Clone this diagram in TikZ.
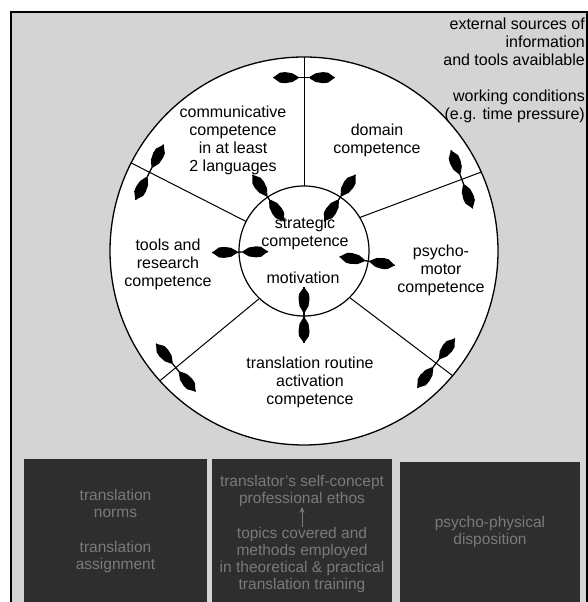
\documentclass[tikz,border=0pt]{standalone}
\usepackage{fontspec}
\setmainfont{Liberation Sans}
\usetikzlibrary{calc,arrows.meta}
% one spindle-shaped head: tip at #1, pointing away from #2
\newcommand\spindlehead[2]{%
  \fill ($(#1)$) -- ($(#1)!7pt!(#2)!5pt!90:(#2)$) -- ($(#1)!12pt!(#2)!5.5pt!90:(#2)$)
    -- ($(#1)!19pt!(#2)!4.5pt!90:(#2)$) -- ($(#1)!25pt!(#2)!1pt!90:(#2)$)
    -- ($(#1)!25pt!(#2)!1pt!-90:(#2)$) -- ($(#1)!19pt!(#2)!4.5pt!-90:(#2)$)
    -- ($(#1)!12pt!(#2)!5.5pt!-90:(#2)$) -- ($(#1)!7pt!(#2)!5pt!-90:(#2)$) -- cycle;}
% two-way arrow between two named coordinates
\newcommand\twowayarrow[2]{%
  \draw[line width=1.3pt] (#1) -- (#2);
  \spindlehead{#1}{#2}\spindlehead{#2}{#1}}
\begin{document}
\begin{tikzpicture}[x=1pt,y=1pt,
  lbl/.style={align=center,font=\fontsize{16}{18}\selectfont,inner sep=0pt},
  note/.style={align=right,font=\fontsize{16}{18}\selectfont,inner sep=0pt,anchor=east},
  boxtxt/.style={align=center,font=\fontsize{15.5}{17}\selectfont,inner sep=0pt,text=black!52},
  darkbox/.style={fill=black!82,draw=none},
  spoke/.style={line width=1pt}
]
\useasboundingbox (0,0) rectangle (588,602);

% shaded field inside the frame
\fill[black!17] (11,-5) rectangle (587,590);
\draw[line width=1.4pt] (11,-5) |- (587,590) -- (587,-5);

% competence wheel
\coordinate (C) at (304,351);
\draw[line width=1.3pt,fill=white] (C) circle[radius=194];
\draw[line width=1.2pt] (C) circle[radius=65];

% spokes with two-way arrows across them
\foreach \a/\b [count=\i] in {90/90, 31/24, -45.6/-40, 226.8/222, 153/153} {
  \coordinate (si\i) at ($(C)+(\a:65)$);
  \coordinate (so\i) at ($(C)+(\b:194)$);
  \draw[spoke] (si\i) -- (so\i);
  \coordinate (m\i) at ($(si\i)!0.84!(so\i)$);
  \coordinate (oa\i) at ($(m\i)!31pt!90:(so\i)$);
  \coordinate (ob\i) at ($(m\i)!31pt!-90:(so\i)$);
  \twowayarrow{oa\i}{ob\i}
}

% arrows linking the centre to each sector
\foreach \a [count=\i] in {124,56,-9,270,181} {
  \coordinate (ia\i) at ($(C)+(\a:36)$);
  \coordinate (ib\i) at ($(C)+(\a:92)$);
  \twowayarrow{ia\i}{ib\i}
}

% sector labels
\node[lbl] (comm) at (233,462) {communicative\\competence\\in at least\\2 languages};
\node[lbl] (dom) at (377,462) {domain\\competence};
\node[lbl] (strat) at (305,368.5) {strategic\\competence};
\node[lbl] (motiv) at (303,324) {motivation};
\node[lbl] (tools) at (168,338) {tools and\\research\\competence};
\node[lbl] (psy) at (441,332) {psycho-\\motor\\competence};
\node[lbl] (routine) at (310,220) {translation routine\\activation\\competence};

% surrounding conditions
\node[note] (ext) at (585,560) {external sources of\\information\\and tools avaiblable};
\node[note] (work) at (585,495.5) {working conditions\\(e.g. time pressure)};

% bottom boxes
\fill[darkbox] (24,-5) rectangle (207,143);
\fill[darkbox] (212,-5) rectangle (392,143);
\fill[darkbox] (400,-5) rectangle (580,140);

\node[boxtxt] (norms) at (115.5,98.5) {translation\\norms};
\node[boxtxt] (assign) at (115.5,45.5) {translation\\assignment};
\node[boxtxt] (self) at (302,111) {translator's self-concept\\professional ethos};
\node[boxtxt] (train) at (302,42) {topics covered and\\methods employed\\in theoretical \& practical\\translation training};
\draw[-{Stealth[length=6pt,width=5pt]},line width=1pt,black!52] (train.north) -- (self.south);
\node[boxtxt] (disp) at (490,70.5) {psycho-physical\\disposition};
\end{tikzpicture}
\end{document}
